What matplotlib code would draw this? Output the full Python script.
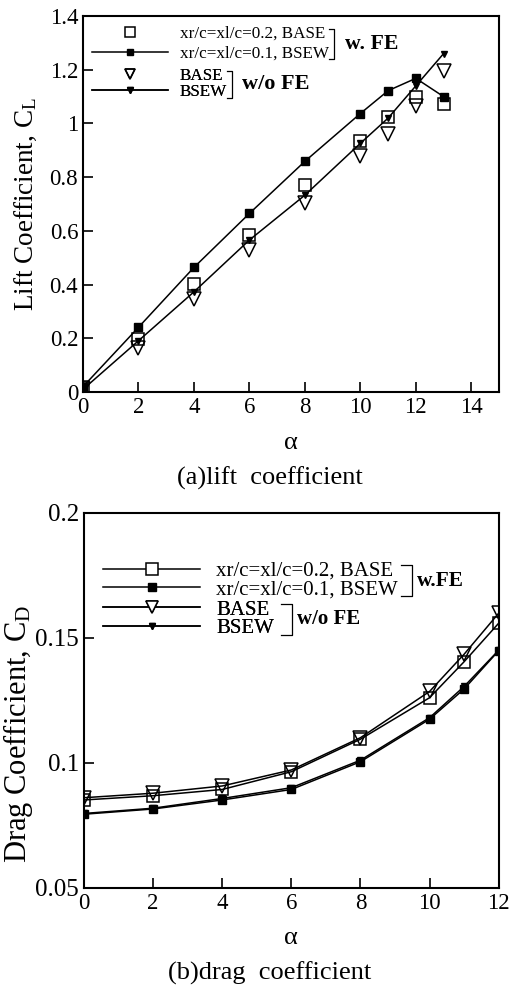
import matplotlib
matplotlib.use('Agg')
import matplotlib.pyplot as plt
from matplotlib.lines import Line2D
from matplotlib.ticker import FuncFormatter

plt.rcParams['font.family'] = 'Liberation Serif'
plt.rcParams['mathtext.fontset'] = 'custom'
plt.rcParams['mathtext.rm'] = 'Liberation Serif'
plt.rcParams['mathtext.it'] = 'Liberation Serif:italic'

# lift coefficient data
alpha_lift = [0, 2, 4, 6, 8, 10, 11, 12, 13]
cl_fe_base = [0.02, 0.196, 0.402, 0.586, 0.772, 0.936, 1.023, 1.10, 1.072]
cl_fe_bsew = [0.02, 0.241, 0.464, 0.665, 0.859, 1.037, 1.122, 1.168, 1.10]
cl_base = [0.01, 0.163, 0.345, 0.529, 0.702, 0.879, 0.961, 1.065, 1.196]
cl_bsew = [0.01, 0.191, 0.373, 0.566, 0.733, 0.926, 1.02, 1.14, 1.26]

# drag coefficient data
alpha_drag = [0, 2, 4, 6, 8, 10, 11, 12]
cd_fe_base = [0.0851, 0.0868, 0.0893, 0.0964, 0.1094, 0.1260, 0.1404, 0.1558]
cd_fe_bsew = [0.0794, 0.0815, 0.0851, 0.0893, 0.1004, 0.1174, 0.1295, 0.1448]
cd_base = [0.0860, 0.0878, 0.0907, 0.0971, 0.1100, 0.1285, 0.1434, 0.1598]
cd_bsew = [0.0797, 0.0818, 0.0857, 0.0900, 0.1010, 0.1180, 0.1305, 0.1450]

labels_fe = ['xr/c=xl/c=0.2, BASE', 'xr/c=xl/c=0.1, BSEW']
labels_nofe = ['BASE', 'BSEW']

fig = plt.figure(figsize=(5.13, 9.89), dpi=100)
ax1 = fig.add_axes([0.1618, 0.6036, 0.811, 0.3802])
ax2 = fig.add_axes([0.1637, 0.1024, 0.8084, 0.3792])

lw = 1.1
mew = 1.1


def style_axes(ax, ysize):
    for s in ax.spines.values():
        s.set_linewidth(1.5)
    ax.tick_params(direction='in', length=7, width=1.2, top=False, right=False, pad=3.5)
    ax.tick_params(axis='x', labelsize=16.5)
    ax.tick_params(axis='y', labelsize=ysize)
    ax.yaxis.set_major_formatter(FuncFormatter(lambda v, p: '%g' % round(v, 3)))


def bracket(leg, label, fs, gap, tick, tgap):
    fig.canvas.draw()
    r = fig.canvas.get_renderer()
    boxes = [t.get_window_extent(r) for t in leg.get_texts()]
    inv = fig.transFigure.inverted()
    x0 = max(b.x1 for b in boxes) + gap
    h = boxes[0].height
    ytop = (boxes[0].y0 + boxes[0].y1) / 2 + 0.33 * h
    ybot = (boxes[-1].y0 + boxes[-1].y1) / 2 - 0.33 * h
    pts = inv.transform([(x0 - tick, ytop), (x0, ytop), (x0, ybot), (x0 - tick, ybot)])
    fig.add_artist(Line2D(pts[:, 0], pts[:, 1], color='black', lw=0.9,
                          transform=fig.transFigure))
    xt, yt = inv.transform((x0 + tgap, (ytop + ybot) / 2))
    fig.text(xt, yt, label, fontsize=fs, fontweight='bold', va='center', ha='left')


# --- (a) lift ---
ax1.plot(alpha_lift, cl_fe_base, ls='none', marker='s', ms=8.5, mfc='none', mec='black', mew=mew)
ax1.plot(alpha_lift, cl_fe_bsew, color='black', lw=lw, marker='s', ms=6, mfc='black', mec='black')
ax1.plot(alpha_lift, cl_base, ls='none', marker='v', ms=9.5, mfc='none', mec='black', mew=mew)
ax1.plot(alpha_lift, cl_bsew, color='black', lw=lw, marker='v', ms=5, mfc='black', mec='black')
ax1.set_xlim(0, 15)
ax1.set_ylim(0, 1.4)
ax1.set_xticks(range(0, 15, 2))
ax1.set_yticks([0, 0.2, 0.4, 0.6, 0.8, 1.0, 1.2, 1.4])
style_axes(ax1, 16.5)
ax1.set_xlabel('α', fontsize=19, labelpad=10)
ax1.set_ylabel('Lift Coefficient, C$_\\mathrm{L}$', fontsize=19.5)
ax1.yaxis.set_label_coords(-0.105, 0.5)

h1 = [Line2D([], [], ls='none', marker='s', ms=7, mfc='none', mec='black', mew=mew),
      Line2D([], [], color='black', lw=lw, marker='s', ms=5, mfc='black', mec='black')]
h2 = [Line2D([], [], ls='none', marker='v', ms=7.5, mfc='none', mec='black', mew=mew),
      Line2D([], [], color='black', lw=lw, marker='v', ms=5, mfc='black', mec='black')]
leg1 = ax1.legend(h1, labels_fe, loc='upper left', bbox_to_anchor=(0.0216, 0.974),
                  frameon=False, fontsize=12.3, handlelength=4.45, handletextpad=0.7,
                  borderpad=0, borderaxespad=0, labelspacing=0.23)
ax1.add_artist(leg1)
leg2 = ax1.legend(h2, labels_nofe, loc='upper left', bbox_to_anchor=(0.0216, 0.862),
                  frameon=False, fontsize=12.3, handlelength=4.45, handletextpad=0.7,
                  borderpad=0, borderaxespad=0, labelspacing=0.02)
ax1.add_artist(leg2)

# --- (b) drag ---
ax2.plot(alpha_drag, cd_fe_base, color='black', lw=lw, marker='s', ms=8.5, mfc='none', mec='black', mew=mew)
ax2.plot(alpha_drag, cd_fe_bsew, color='black', lw=lw, marker='s', ms=6, mfc='black', mec='black')
ax2.plot(alpha_drag, cd_base, color='black', lw=lw, marker='v', ms=9.5, mfc='none', mec='black', mew=mew)
ax2.plot(alpha_drag, cd_bsew, color='black', lw=lw, marker='v', ms=5, mfc='black', mec='black')
ax2.set_xlim(0, 12)
ax2.set_ylim(0.05, 0.2)
ax2.set_xticks(range(0, 13, 2))
ax2.set_yticks([0.05, 0.1, 0.15, 0.2])
style_axes(ax2, 18)
ax2.set_xlabel('α', fontsize=19, labelpad=10)
ax2.set_ylabel('Drag Coefficient, C$_\\mathrm{D}$', fontsize=22)
ax2.yaxis.set_label_coords(-0.119, 0.41)

h3 = [Line2D([], [], color='black', lw=lw, marker='s', ms=8, mfc='white', mec='black', mew=mew),
      Line2D([], [], color='black', lw=lw, marker='s', ms=6, mfc='black', mec='black')]
h4 = [Line2D([], [], color='black', lw=lw, marker='v', ms=8, mfc='white', mec='black', mew=mew),
      Line2D([], [], color='black', lw=lw, marker='v', ms=5, mfc='black', mec='black')]
leg3 = ax2.legend(h3, labels_fe, loc='upper left', bbox_to_anchor=(0.0458, 0.870),
                  frameon=False, fontsize=15, handlelength=4.66, handletextpad=0.77,
                  borderpad=0, borderaxespad=0, labelspacing=-0.05)
ax2.add_artist(leg3)
leg4 = ax2.legend(h4, labels_nofe, loc='upper left', bbox_to_anchor=(0.0458, 0.767),
                  frameon=False, fontsize=15, handlelength=4.66, handletextpad=0.77,
                  borderpad=0, borderaxespad=0, labelspacing=-0.05)
ax2.add_artist(leg4)

fig.text(270 / 513, 1 - 478 / 989, '(a)lift  coefficient', fontsize=19, ha='center', va='center')
fig.text(270 / 513, 1 - 973 / 989, '(b)drag  coefficient', fontsize=19, ha='center', va='center')

bracket(leg1, 'w. FE', 15.7, 5, 5, 11)
bracket(leg2, 'w/o FE', 16, 5, 5, 10)
bracket(leg3, 'w.FE', 15.4, 14, 11, 5)
bracket(leg4, 'w/o FE', 15, 18, 11, 5)

fig.savefig('out.png', dpi=100)
